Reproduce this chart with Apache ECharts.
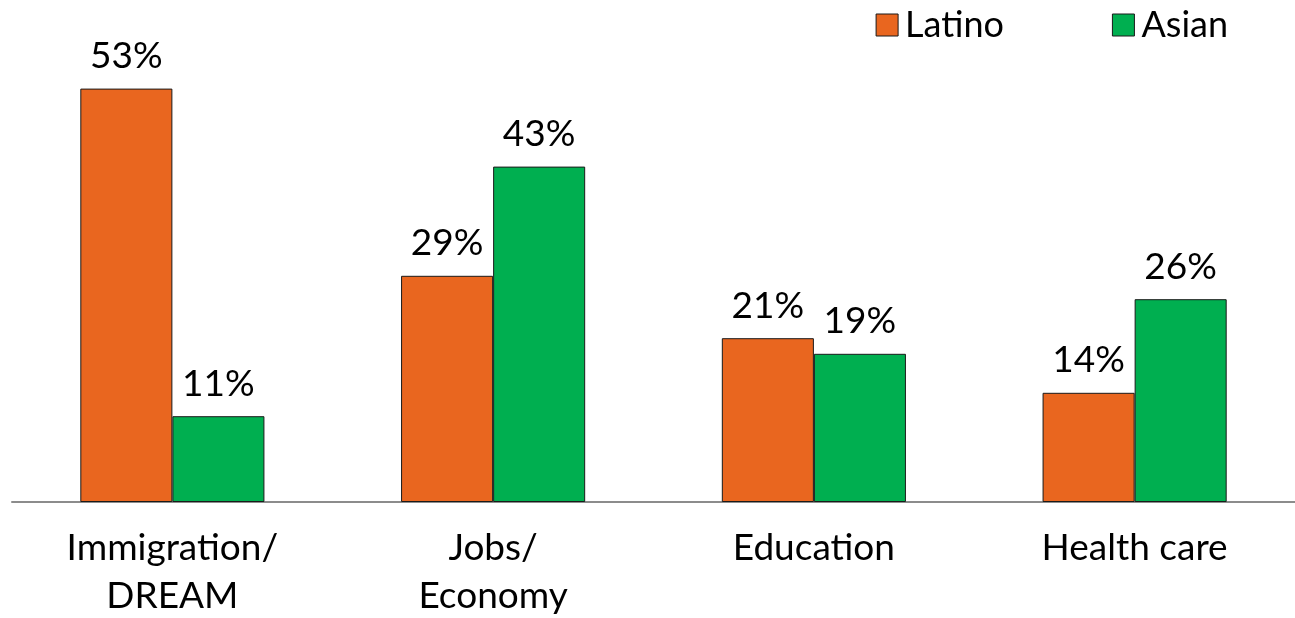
<!DOCTYPE html>
<html><head><meta charset="utf-8">
<script src="https://cdn.jsdelivr.net/npm/echarts@6/dist/echarts.min.js"></script>
<style>html,body{margin:0;padding:0;background:#fff}#c{width:1295px;height:618px}</style>
</head><body><div id="c"></div>
<script>
const categories = ['Immigration/\nDREAM', 'Jobs/\nEconomy', 'Education', 'Health care'];
const latino = [53, 29, 21, 14];
const asian = [11, 43, 19, 26];
const seriesNames = ['Latino', 'Asian'];
const FONT = 'Lato, "Noto Sans", sans-serif';
const chart = echarts.init(document.getElementById('c'), null, {renderer: 'canvas'});
const lbl = {show: true, position: 'top', distance: 14, formatter: '{c}%', fontSize: 37, color: '#000', fontFamily: FONT};
chart.setOption({
  animation: false,
  legend: {
    right: 62, top: 2, itemWidth: 22, itemHeight: 22, itemGap: 108, icon: 'rect',
    textStyle: {fontSize: 36, color: '#000', fontFamily: FONT, padding: [0, 0, 0, 2]},
    itemStyle: {borderColor: '#1a1a1a', borderWidth: 1},
    data: seriesNames
  },
  grid: {left: 12, right: 0, top: 34, bottom: 116, outerBoundsMode: 'none'},
  xAxis: {
    type: 'category', data: categories,
    axisLine: {lineStyle: {color: '#8c8c8c', width: 2}},
    axisTick: {show: false},
    axisLabel: {fontSize: 37, color: '#000', fontFamily: FONT, margin: 22, lineHeight: 48}
  },
  yAxis: {type: 'value', min: 0, max: 60, show: false, splitLine: {show: false}},
  series: [
    {name: seriesNames[0], type: 'bar', data: latino, barGap: '0%', barCategoryGap: '42.6%',
     itemStyle: {color: '#E9661F', borderColor: '#1a1a1a', borderWidth: 1}, label: lbl},
    {name: seriesNames[1], type: 'bar', data: asian,
     itemStyle: {color: '#00AF50', borderColor: '#1a1a1a', borderWidth: 1}, label: lbl}
  ]
});
</script></body></html>
